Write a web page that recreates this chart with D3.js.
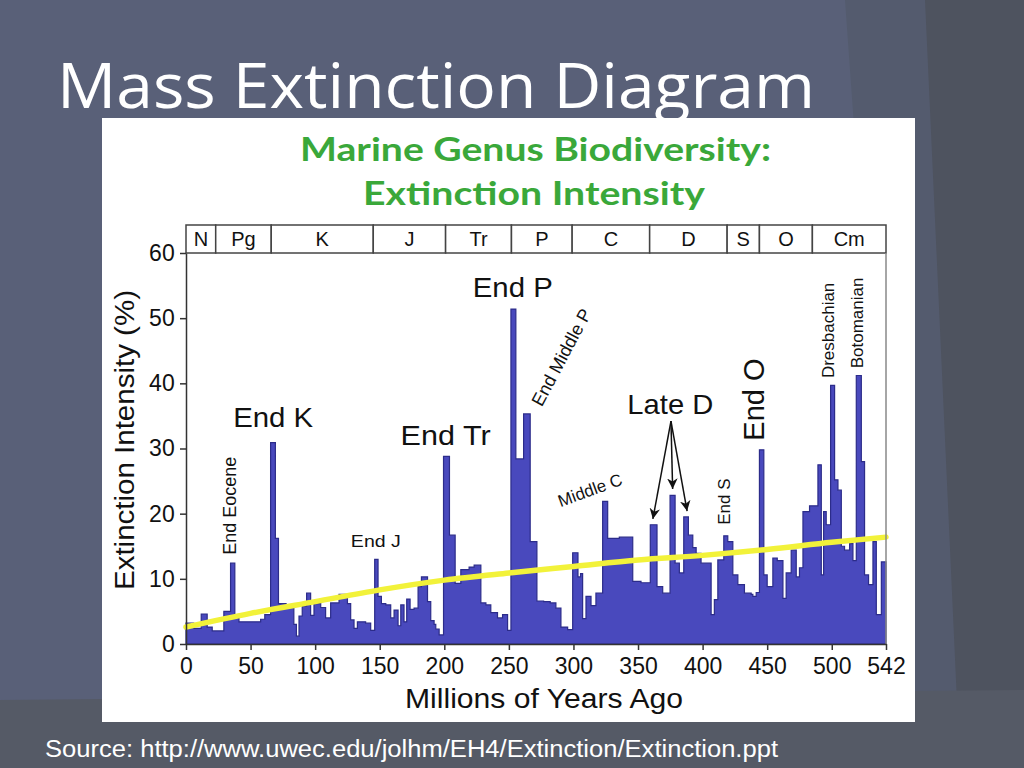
<!DOCTYPE html>
<html>
<head>
<meta charset="utf-8">
<script src="https://cdn.jsdelivr.net/npm/d3@7"></script>
<style>
  html, body { margin: 0; padding: 0; background: #596078; }
  svg { display: block; }
</style>
</head>
<body>
<svg id="chart" width="1024" height="768"></svg>
<script>
// Extinction intensity data (step series): bin start age (Ma) and intensity (%)
const binStart = [0, 6, 11.8, 16.4, 20.3, 29.3, 34.5, 37.8, 41, 57.8, 61, 65.5, 69.2, 71.6, 77.5,
  83.5, 85.5, 87.5, 90, 93.4, 96.5, 99.1, 104.3, 108.1, 112, 118.5, 125, 127.5, 130.1, 132.7,
  139.1, 143, 146.1, 148.7, 151.3, 154.7, 158.5, 161.1, 164.2, 166.3, 168.8, 170.9, 173.5, 176.6,
  179.7, 182.3, 187, 189.5, 192.1, 193.4, 196, 199.4, 204, 208.4, 212.8, 219.2, 223.1, 228.3,
  232.2, 236, 241.2, 245.1, 249, 251.6, 255.4, 261.4, 266.5, 271.7, 276.9, 282, 286.4, 290.3,
  295.5, 299.4, 303.5, 305.5, 307.1, 309.7, 313.6, 317.4, 322.6, 326.5, 335.5, 345.9, 352.3,
  359.5, 364.7, 369.1, 374.8, 378.7, 382, 385.4, 389, 392.4, 395, 398.8, 406.6, 409.1, 411.8,
  416.4, 419.5, 423.4, 427.3, 432.4, 437.6, 438.9, 441.5, 444, 447.4, 450, 454.4, 457.8, 462.2,
  464.7, 468.6, 472.5, 475, 477.7, 482.8, 487.2, 489.3, 491.9, 493.7, 495.7, 499.1, 502.2, 504.8,
  507.4, 509.9, 513.8, 516.4, 519, 522.9, 525.4, 528.5, 531.9, 534.5, 538.4];
const intensity = [3.2, 2.4, 4.6, 2.6, 2.0, 5.0, 12.4, 4.0, 3.4, 3.8, 4.5, 30.9, 16.2, 6.2, 6.0,
  3.0, 1.2, 4.3, 5.8, 7.8, 4.4, 6.2, 5.6, 4.0, 6.3, 7.6, 6.2, 3.7, 2.4, 3.4,
  3.2, 2.1, 13.0, 7.3, 6.2, 6.0, 4.0, 5.2, 2.8, 6.0, 3.4, 6.9, 5.3, 5.5,
  8.8, 10.3, 6.5, 3.6, 3.0, 2.3, 1.4, 28.8, 16.7, 9.3, 11.4, 11.8, 12.1, 6.3,
  6.0, 4.8, 4.0, 4.5, 2.1, 51.4, 28.4, 35.3, 15.7, 6.6, 6.5, 6.3, 5.5, 2.6,
  2.2, 14.0, 10.3, 10.8, 3.9, 7.3, 5.9, 7.8, 21.9, 16.2, 16.4, 9.6, 9.4,
  18.3, 8.8, 7.8, 22.8, 12.4, 10.9, 19.5, 16.7, 14.8, 13.9, 12.4, 4.5, 6.8, 12.9,
  16.6, 15.7, 10.6, 9.1, 7.8, 7.6, 7.3, 7.9, 29.8, 10.6, 8.8, 13.2, 12.8, 7.0,
  10.9, 14.4, 10.3, 11.7, 20.3, 21.2, 21.2, 27.5, 10.6, 20.3, 18.3, 39.7, 25.2, 23.6,
  15.0, 14.4, 15.4, 12.8, 41.2, 28.0, 10.6, 9.1, 15.7, 4.5, 12.6];
const endAge = 542;

// Long-term trend (yellow line)
const trendAge = [0, 50, 100, 150, 200, 250, 300, 350, 400, 450, 500, 542];
const trendValue = [2.6, 4.7, 6.5, 8.3, 9.8, 10.9, 11.9, 12.9, 13.6, 14.5, 15.6, 16.4];

// Geologic periods
const periodNames = ['N', 'Pg', 'K', 'J', 'Tr', 'P', 'C', 'D', 'S', 'O', 'Cm'];
const periodStart = [0, 23, 66, 145, 201, 252, 299, 359, 419, 444, 485];
const periodEnd = [23, 66, 145, 201, 252, 299, 359, 419, 444, 485, 542];

// Axis ticks
const xTicks = [0, 50, 100, 150, 200, 250, 300, 350, 400, 450, 500, 542];
const yTicks = [0, 10, 20, 30, 40, 50, 60];

// Event labels: [text, age, value, size, width]
const eventLabels = [
  ['End K', 67.5, 33.3, 28, 80],
  ['End Tr', 201, 30.6, 28, 90],
  ['End P', 253, 53.3, 28, 80],
  ['Late D', 375, 35.3, 28, 86],
  ['End J', 147, 14.9, 17, 50]
];
const rotatedLabels = [
  // [text, age, value (start of text), size, angle]
  ['End Eocene', 38.5, 13.7, 18, -90],
  ['End S', 421.5, 18.3, 17, -90],
  ['End O', 447.5, 31.2, 29, -90],
  ['Dresbachian', 502, 40.8, 17, -90],
  ['Botomanian', 524, 42.3, 17, -90],
  ['End Middle P', 275.5, 36.3, 18, -62],
  ['Middle C', 290, 21.0, 17, -20]
];
// Late D arrows: from label point to the three peaks
const arrowTargets = [[361.5, 19.2], [376.8, 23.8], [388, 20.4]];
const arrowOrigin = [375.5, 34.2];

const svg = d3.select('#chart');
const FONT = 'Liberation Sans, Arial, sans-serif';

// ---- slide background ----
const bg = svg.append('g');
bg.append('rect').attr('width', 1024).attr('height', 768).attr('fill', '#596078');
bg.append('path').attr('d', 'M845,0 L1024,0 L1024,768 L900,768 Z').attr('fill', '#545b6e');
bg.append('path').attr('d', 'M925,0 L1024,0 L1024,768 L960,768 Z').attr('fill', '#4e535f');
bg.append('path').attr('d', 'M0,700 L1024,690 L1024,768 L0,768 Z').attr('fill', '#555a66');

svg.append('text')
  .attr('x', 57).attr('y', 108)
  .attr('font-family', 'Open Sans, sans-serif')
  .attr('font-size', 62)
  .attr('textLength', 758).attr('lengthAdjust', 'spacingAndGlyphs')
  .attr('fill', '#ffffff')
  .text('Mass Extinction Diagram');

svg.append('text')
  .attr('x', 45).attr('y', 757)
  .attr('font-family', FONT)
  .attr('font-size', 23)
  .attr('textLength', 733).attr('lengthAdjust', 'spacingAndGlyphs')
  .attr('fill', '#ffffff')
  .text('Source: http://www.uwec.edu/jolhm/EH4/Extinction/Extinction.ppt');

// ---- white panel ----
svg.append('rect')
  .attr('x', 102).attr('y', 118).attr('width', 813).attr('height', 604)
  .attr('fill', '#ffffff');

svg.append('text')
  .attr('x', 300).attr('y', 161)
  .attr('font-family', 'Lato, sans-serif').attr('font-weight', 700)
  .attr('font-size', 33).attr('fill', '#3aa83a')
  .attr('textLength', 471).attr('lengthAdjust', 'spacingAndGlyphs')
  .text('Marine Genus Biodiversity:');
svg.append('text')
  .attr('x', 363).attr('y', 205)
  .attr('font-family', 'Lato, sans-serif').attr('font-weight', 700)
  .attr('font-size', 33).attr('fill', '#3aa83a')
  .attr('textLength', 342).attr('lengthAdjust', 'spacingAndGlyphs')
  .text('Extinction Intensity');

// ---- scales ----
const x = d3.scaleLinear().domain([0, 542]).range([186, 886]);
const y = d3.scaleLinear().domain([0, 60]).range([644, 253]);
const bandTop = 225;

const plot = svg.append('g');

// step area
const stepData = binStart.map((a, i) => ({ age: a, v: intensity[i] }));
stepData.push({ age: endAge, v: intensity[intensity.length - 1] });

const area = d3.area()
  .x(d => x(d.age))
  .y0(y(0))
  .y1(d => y(d.v))
  .curve(d3.curveStepAfter);

plot.append('path')
  .datum(stepData)
  .attr('d', area)
  .attr('fill', '#4949bd')
  .attr('stroke', '#2c2c8a')
  .attr('stroke-width', 1.2)
  .attr('stroke-linejoin', 'miter');

// trend line
const trend = trendAge.map((a, i) => ({ age: a, v: trendValue[i] }));
plot.append('path')
  .datum(trend)
  .attr('d', d3.line().x(d => x(d.age)).y(d => y(d.v)).curve(d3.curveMonotoneX))
  .attr('fill', 'none')
  .attr('stroke', '#f2f23a')
  .attr('stroke-width', 5.5)
  .attr('stroke-linecap', 'round');

// period band
const band = svg.append('g');
band.selectAll('rect')
  .data(periodNames)
  .join('rect')
  .attr('x', (d, i) => x(periodStart[i]))
  .attr('y', bandTop)
  .attr('width', (d, i) => x(periodEnd[i]) - x(periodStart[i]))
  .attr('height', y(60) - bandTop)
  .attr('fill', '#ffffff')
  .attr('stroke', '#444')
  .attr('stroke-width', 1.5);
band.selectAll('text')
  .data(periodNames)
  .join('text')
  .attr('x', (d, i) => (x(periodStart[i]) + x(periodEnd[i])) / 2)
  .attr('y', bandTop + 21)
  .attr('text-anchor', 'middle')
  .attr('font-family', FONT)
  .attr('font-size', 20)
  .attr('fill', '#111')
  .text(d => d);

// right border of plot
svg.append('line')
  .attr('x1', x(542)).attr('x2', x(542))
  .attr('y1', y(60)).attr('y2', y(0))
  .attr('stroke', '#888').attr('stroke-width', 1.5);

// axes
const xAxis = svg.append('g')
  .attr('transform', `translate(0,${y(0)})`)
  .call(d3.axisBottom(x).tickValues(xTicks).tickSize(6).tickSizeOuter(0).tickFormat(d3.format('d')));
const yAxis = svg.append('g')
  .attr('transform', `translate(${x(0)},0)`)
  .call(d3.axisLeft(y).tickValues(yTicks).tickSize(6).tickSizeOuter(0));

[xAxis, yAxis].forEach(g => {
  g.select('.domain').attr('stroke', '#333').attr('stroke-width', 1.5);
  g.selectAll('.tick line').attr('stroke', '#333').attr('stroke-width', 1.5);
  g.selectAll('.tick text')
    .attr('font-family', FONT)
    .attr('font-size', 23)
    .attr('fill', '#111');
});
xAxis.selectAll('.tick text').attr('dy', '0.9em');
yAxis.selectAll('.tick text').attr('dx', '-0.1em');

svg.append('text')
  .attr('x', 405).attr('y', 708)
  .attr('font-family', FONT).attr('font-size', 27).attr('fill', '#111')
  .attr('textLength', 278).attr('lengthAdjust', 'spacingAndGlyphs')
  .text('Millions of Years Ago');
svg.append('text')
  .attr('transform', 'translate(134,590) rotate(-90)')
  .attr('font-family', FONT).attr('font-size', 27).attr('fill', '#111')
  .attr('textLength', 300).attr('lengthAdjust', 'spacingAndGlyphs')
  .text('Extinction Intensity (%)');

// ---- annotations ----
const ann = svg.append('g').attr('font-family', FONT).attr('fill', '#111');
ann.selectAll('text.evt')
  .data(eventLabels)
  .join('text')
  .attr('class', 'evt')
  .attr('x', d => x(d[1]) - d[4] / 2)
  .attr('y', d => y(d[2]))
  .attr('font-size', d => d[3])
  .attr('textLength', d => d[4]).attr('lengthAdjust', 'spacingAndGlyphs')
  .text(d => d[0]);

ann.selectAll('text.rot')
  .data(rotatedLabels)
  .join('text')
  .attr('class', 'rot')
  .attr('transform', d => `translate(${x(d[1])},${y(d[2])}) rotate(${d[4]})`)
  .attr('font-size', d => d[3])
  .text(d => d[0]);

svg.append('defs').append('marker')
  .attr('id', 'arrow')
  .attr('viewBox', '0 0 10 10')
  .attr('refX', 10).attr('refY', 5)
  .attr('markerWidth', 7).attr('markerHeight', 7)
  .attr('orient', 'auto-start-reverse')
  .append('path').attr('d', 'M0,0 L10,5 L0,10 L3,5 Z').attr('fill', '#111');

ann.selectAll('line.arrow')
  .data(arrowTargets)
  .join('line')
  .attr('class', 'arrow')
  .attr('x1', x(arrowOrigin[0])).attr('y1', y(arrowOrigin[1]))
  .attr('x2', d => x(d[0])).attr('y2', d => y(d[1]))
  .attr('stroke', '#111').attr('stroke-width', 1.5)
  .attr('marker-end', 'url(#arrow)');
</script>
</body>
</html>
